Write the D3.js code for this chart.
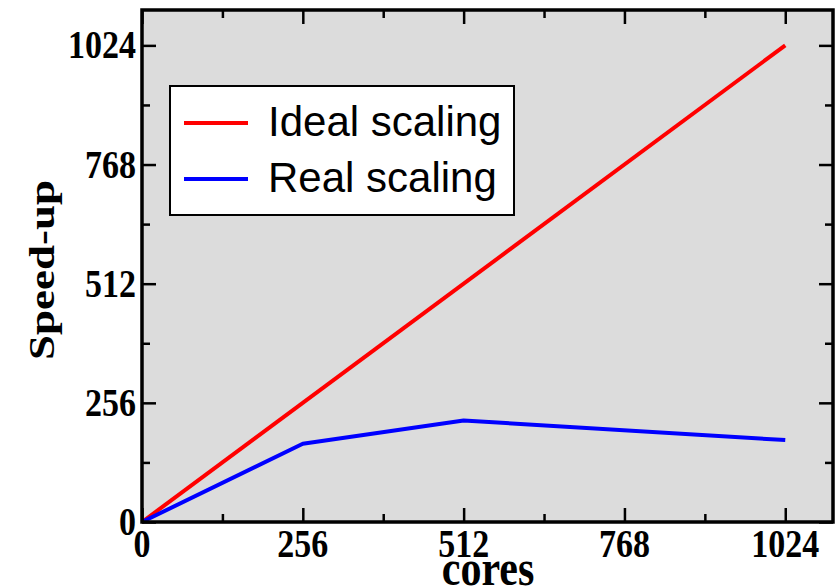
<!DOCTYPE html>
<html>
<head>
<meta charset="utf-8">
<script src="https://cdn.jsdelivr.net/npm/d3@7"></script>
<style>
  body { margin: 0; background: #fff; }
</style>
</head>
<body>
<div id="chart"></div>
<script>
// data
var idealCores = [0, 1024];
var idealSpeedup = [0, 1024];
var realCores = [0, 256, 512, 1024];
var realSpeedup = [0, 168, 218, 176];
var majorTicks = [0, 256, 512, 768, 1024];
var minorTicks = [128, 384, 640, 896];
var seriesNames = ["Ideal scaling", "Real scaling"];
var seriesColors = ["#ff0000", "#0000ff"];

var width = 839, height = 587;
var plot = {left: 142, right: 833, top: 10, bottom: 522};

var svg = d3.select("#chart")
  .append("svg")
  .attr("width", width)
  .attr("height", height);

var x = d3.scaleLinear().domain([0, 1100]).range([plot.left, plot.right]);
var y = d3.scaleLinear().domain([0, 1100]).range([plot.bottom, plot.top]);

// plot background
svg.append("rect")
  .attr("x", plot.left).attr("y", plot.top)
  .attr("width", plot.right - plot.left)
  .attr("height", plot.bottom - plot.top)
  .attr("fill", "#dcdcdc");

// lines
var line = d3.line()
  .x(function(d) { return x(d[0]); })
  .y(function(d) { return y(d[1]); });

svg.append("path")
  .datum(d3.zip(idealCores, idealSpeedup))
  .attr("fill", "none")
  .attr("stroke", seriesColors[0])
  .attr("stroke-width", 4)
  .attr("d", line);

svg.append("path")
  .datum(d3.zip(realCores, realSpeedup))
  .attr("fill", "none")
  .attr("stroke", seriesColors[1])
  .attr("stroke-width", 4)
  .attr("stroke-linejoin", "round")
  .attr("d", line);

// axes, ticks pointing inward on all four sides
function styleAxis(g) {
  g.select(".domain").remove();
  g.selectAll(".tick line").attr("stroke", "#000").attr("stroke-width", 2.5);
}

svg.append("g")
  .attr("transform", "translate(0," + plot.bottom + ")")
  .call(d3.axisBottom(x).tickValues(majorTicks).tickSize(-14).tickFormat(""))
  .call(styleAxis);
svg.append("g")
  .attr("transform", "translate(0," + plot.bottom + ")")
  .call(d3.axisBottom(x).tickValues(minorTicks).tickSize(-8).tickFormat(""))
  .call(styleAxis);
svg.append("g")
  .attr("transform", "translate(0," + plot.top + ")")
  .call(d3.axisTop(x).tickValues(majorTicks).tickSize(-14).tickFormat(""))
  .call(styleAxis);
svg.append("g")
  .attr("transform", "translate(0," + plot.top + ")")
  .call(d3.axisTop(x).tickValues(minorTicks).tickSize(-8).tickFormat(""))
  .call(styleAxis);
svg.append("g")
  .attr("transform", "translate(" + plot.left + ",0)")
  .call(d3.axisLeft(y).tickValues(majorTicks).tickSize(-14).tickFormat(""))
  .call(styleAxis);
svg.append("g")
  .attr("transform", "translate(" + plot.left + ",0)")
  .call(d3.axisLeft(y).tickValues(minorTicks).tickSize(-8).tickFormat(""))
  .call(styleAxis);
svg.append("g")
  .attr("transform", "translate(" + plot.right + ",0)")
  .call(d3.axisRight(y).tickValues(majorTicks).tickSize(-14).tickFormat(""))
  .call(styleAxis);
svg.append("g")
  .attr("transform", "translate(" + plot.right + ",0)")
  .call(d3.axisRight(y).tickValues(minorTicks).tickSize(-8).tickFormat(""))
  .call(styleAxis);

// frame
svg.append("rect")
  .attr("x", plot.left).attr("y", plot.top)
  .attr("width", plot.right - plot.left)
  .attr("height", plot.bottom - plot.top)
  .attr("fill", "none")
  .attr("stroke", "#000")
  .attr("stroke-width", 3.5);

// tick labels
var labelFont = "'Liberation Serif', 'Times New Roman', serif";

svg.append("g").selectAll("text")
  .data(majorTicks)
  .enter().append("text")
  .attr("transform", function(d) { return "translate(" + x(d) + ",557) scale(1,1.15)"; })
  .attr("text-anchor", "middle")
  .style("font-family", labelFont)
  .style("font-weight", "bold")
  .style("font-size", "34px")
  .text(function(d) { return d; });

svg.append("g").selectAll("text")
  .data(majorTicks)
  .enter().append("text")
  .attr("transform", function(d) { return "translate(136," + (y(d) + 13) + ") scale(1,1.15)"; })
  .attr("text-anchor", "end")
  .style("font-family", labelFont)
  .style("font-weight", "bold")
  .style("font-size", "34px")
  .text(function(d) { return d; });

// axis titles
svg.append("text")
  .attr("transform", "translate(488,585) scale(1,1.2)")
  .attr("text-anchor", "middle")
  .style("font-family", labelFont)
  .style("font-weight", "bold")
  .style("font-size", "42px")
  .text("cores");

svg.append("text")
  .attr("transform", "translate(54,270) rotate(-90)")
  .attr("text-anchor", "middle")
  .attr("textLength", 180)
  .attr("lengthAdjust", "spacingAndGlyphs")
  .style("font-family", labelFont)
  .style("font-weight", "bold")
  .style("font-size", "36px")
  .text("Speed-up");

// legend
var legend = svg.append("g");
legend.append("rect")
  .attr("x", 170).attr("y", 86)
  .attr("width", 344).attr("height", 129)
  .attr("fill", "#fff")
  .attr("stroke", "#000")
  .attr("stroke-width", 2);

var item = legend.selectAll(".item")
  .data(seriesNames)
  .enter().append("g")
  .attr("transform", function(d, i) { return "translate(0," + (123 + i * 56) + ")"; });

item.append("line")
  .attr("x1", 184).attr("x2", 248)
  .attr("stroke", function(d, i) { return seriesColors[i]; })
  .attr("stroke-width", 4);

item.append("text")
  .attr("x", 268)
  .attr("y", 13)
  .style("font-family", "'Liberation Sans', Arial, sans-serif")
  .style("font-size", "42px")
  .text(function(d) { return d; });
</script>
</body>
</html>
